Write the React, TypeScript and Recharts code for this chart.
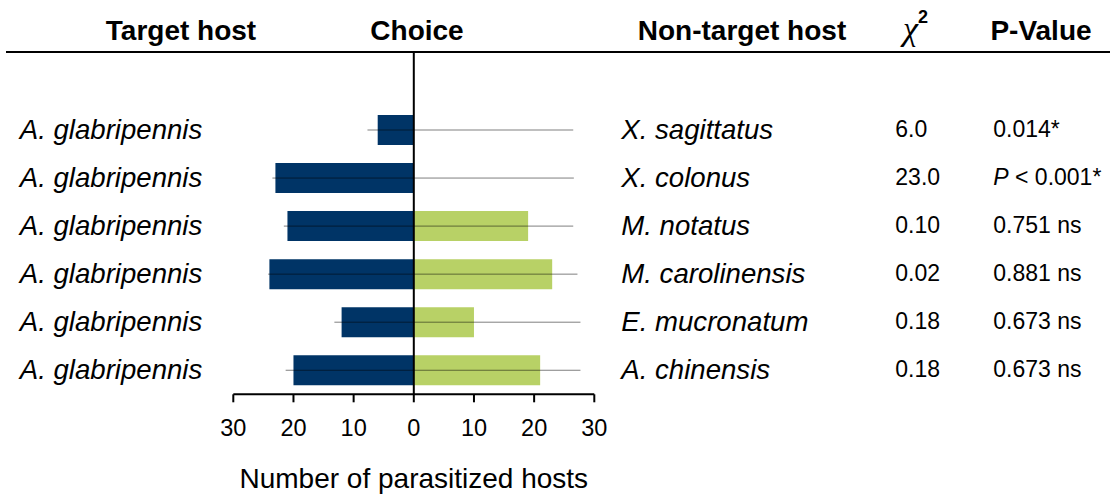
import React from 'react';
import { BarChart, Bar, XAxis, YAxis, ErrorBar, ReferenceLine } from 'recharts';

const targetHosts = ['A. glabripennis', 'A. glabripennis', 'A. glabripennis', 'A. glabripennis', 'A. glabripennis', 'A. glabripennis'];
const nonTargetHosts = ['X. sagittatus', 'X. colonus', 'M. notatus', 'M. carolinensis', 'E. mucronatum', 'A. chinensis'];
const targetCounts = [6, 23, 21, 24, 12, 20];
const nonTargetCounts = [0, 0, 19, 23, 10, 21];
const errorLeftEnds = [7.7, 23.5, 21.6, 24.2, 13.2, 21.3];
const errorRightEnds = [26.5, 26.6, 26.5, 27.2, 27.7, 27.7];
const chiSquare = ['6.0', '23.0', '0.10', '0.02', '0.18', '0.18'];
const pValues = ['0.014*', 'P < 0.001*', '0.751 ns', '0.881 ns', '0.673 ns', '0.673 ns'];
const xTicks = [-30, -20, -10, 0, 10, 20, 30];

const rows = nonTargetHosts.map((h, i) => ({
  nonTarget: h,
  target: targetHosts[i],
  targetValue: -targetCounts[i],
  nonTargetValue: nonTargetCounts[i],
  err: [errorLeftEnds[i] - targetCounts[i], errorRightEnds[i] + targetCounts[i]],
}));

const FONT = '"Liberation Sans", Arial, sans-serif';
const BLUE = '#003466';
const GREEN = '#B8D166';

function RowTick(props: any) {
  const { x, y, payload } = props;
  const i = payload.index;
  const p = pValues[i];
  const italicP = p.startsWith('P ');
  return (
    <g fontFamily={FONT} fill="#000">
      <text x={x - 31} y={y} dy={9} textAnchor="end" fontStyle="italic" fontSize={27.6} fill="#000">
        {targetHosts[i]}
      </text>
      <text x={x + 388} y={y} dy={9} textAnchor="start" fontStyle="italic" fontSize={27.6} fill="#000">
        {nonTargetHosts[i]}
      </text>
      <text x={x + 662} y={y} dy={7} textAnchor="start" fontSize={23} fill="#000">
        {chiSquare[i]}
      </text>
      <text x={x + 760} y={y} dy={7} textAnchor="start" fontSize={23} fill="#000">
        {italicP ? (
          <>
            <tspan fontStyle="italic">P</tspan>
            <tspan>{p.slice(1)}</tspan>
          </>
        ) : (
          p
        )}
      </text>
    </g>
  );
}

export default function App() {
  return (
    <div style={{ position: 'absolute', left: 0, top: 0, width: 1110, height: 494, background: '#fff' }}>
      <BarChart
        width={1110}
        height={494}
        data={rows}
        layout="vertical"
        margin={{ top: 52, right: 515.7, bottom: 0, left: 0 }}
        barSize={30}
        barGap={-30}
      >
        <XAxis
          type="number"
          domain={[-30, 30]}
          ticks={xTicks}
          tickFormatter={(v: number) => String(Math.abs(v))}
          height={99.7}
          axisLine={{ stroke: '#000', strokeWidth: 2 }}
          tickLine={{ stroke: '#000', strokeWidth: 2 }}
          tickSize={8}
          tickMargin={17}
          tick={{ fill: '#000', fontSize: 23.5, fontFamily: FONT }}
          label={{
            value: 'Number of parasitized hosts',
            position: 'insideBottom',
            offset: 6,
            fill: '#000',
            fontSize: 28,
            fontFamily: FONT,
          }}
        />
        <YAxis
          type="category"
          dataKey="nonTarget"
          width={233.3}
          padding={{ top: 54, bottom: 0 }}
          axisLine={false}
          tickLine={false}
          tickSize={0}
          tickMargin={0}
          tick={<RowTick />}
          interval={0}
        />
        <Bar dataKey="nonTargetValue" fill={GREEN} isAnimationActive={false} />
        <Bar dataKey="targetValue" fill={BLUE} isAnimationActive={false}>
          <ErrorBar dataKey="err" direction="x" width={0} stroke="#000" strokeOpacity={0.5} strokeWidth={1} isAnimationActive={false} />
        </Bar>
        <ReferenceLine x={0} stroke="#000" strokeWidth={2} />
      </BarChart>
      <svg
        width={1110}
        height={494}
        style={{ position: 'absolute', left: 0, top: 0, pointerEvents: 'none' }}
        fontFamily={FONT}
      >
        <line x1={6} x2={1110} y1={52} y2={52} stroke="#000" strokeWidth={2} />
        <text x={181} y={40} textAnchor="middle" fontWeight="bold" fontSize={28} fill="#000">Target host</text>
        <text x={417} y={40} textAnchor="middle" fontWeight="bold" fontSize={28} fill="#000">Choice</text>
        <text x={742} y={40} textAnchor="middle" fontWeight="bold" fontSize={28} fill="#000">Non-target host</text>
        <text x={903} y={40} textAnchor="start" fill="#000">
          <tspan fontFamily='"Liberation Serif", "DejaVu Serif", serif' fontStyle="italic" fontSize={34}>χ</tspan>
          <tspan fontWeight="bold" fontSize={18} dy={-17}>2</tspan>
        </text>
        <text x={1041} y={40} textAnchor="middle" fontWeight="bold" fontSize={28} fill="#000">P-Value</text>
      </svg>
    </div>
  );
}
